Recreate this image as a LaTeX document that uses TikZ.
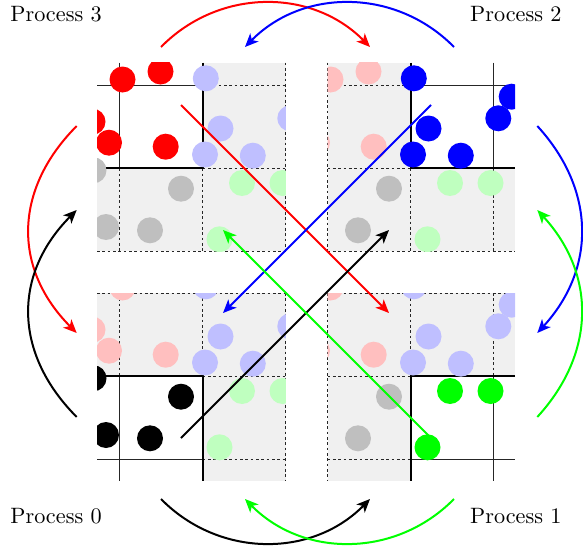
\documentclass[tikz,border=0pt]{standalone}
\usetikzlibrary{arrows.meta}
\definecolor{ghostbg}{gray}{0.94}
\newcommand\gXa{97}\newcommand\gXb{119.5}\newcommand\gXc{202.7}\newcommand\gXd{285.9}\newcommand\gXe{307}
\newcommand\gYa{62.5}\newcommand\gYb{85}\newcommand\gYc{168.2}\newcommand\gYd{251.4}\newcommand\gYe{273}
\newcommand\PthreeList{122.5/79.5,160.5/71.5,92.5/121.7,109/142.7,165.7/146.7}
\newcommand\PtwoList{205.8/78.3,220.5/128.5,205/154.5,252.8/155.7,290.3/118.3,303.7/96.7}
\newcommand\PzeroList{93.5/170.3,181/188.7,106/227,150/230.3}
\newcommand\PoneList{242/183,282.5/183,219.5/239.3}
\newcommand\pdots[2]{\foreach \px/\py in #1 {\fill[#2] (\px,\py) circle[radius=13];}}
\tikzset{
  gridthin/.style={line width=0.45pt, black!85},
  gridthick/.style={line width=0.85pt, black},
  griddash/.style={line width=0.45pt, black!85, dash pattern=on 1.2pt off 1.2pt},
  xfer/.style={line width=0.9pt, -{Stealth[length=6pt,width=5.2pt,inset=1.6pt]}},
  plabel/.style={inner sep=0pt, font=\normalsize},
}
\begin{document}
\begin{tikzpicture}[x=0.45pt,y=-0.45pt]
\useasboundingbox (0,0) rectangle (583,546);

% ---------- Process 3 (top left)
\begin{scope}
  \fill[ghostbg] (\gXc,\gYa) rectangle (\gXd,\gYd);
  \fill[ghostbg] (\gXa,\gYc) rectangle (\gXc,\gYd);
  \draw[gridthin] (\gXb,\gYa) -- (\gXb,\gYc) (\gXa,\gYb) -- (\gXc,\gYb);
  \draw[griddash] (\gXb,\gYc) -- (\gXb,\gYd) (\gXc,\gYc) -- (\gXc,\gYd) (\gXd,\gYa) -- (\gXd,\gYd)
     (\gXc,\gYb) -- (\gXd,\gYb) (\gXc,\gYc) -- (\gXd,\gYc) (\gXa,\gYd) -- (\gXd,\gYd);
  \draw[gridthick] (\gXc,\gYa) -- (\gXc,\gYc) -- (\gXa,\gYc);
  \begin{scope}
    \clip (\gXa,\gYa) rectangle (\gXd,\gYd);
    \pdots{\PtwoList}{blue!25}\pdots{\PzeroList}{black!25}\pdots{\PoneList}{green!25}
  \end{scope}
\end{scope}

% ---------- Process 2 (top right)
\begin{scope}[shift={(208,0)}]
  \fill[ghostbg] (\gXb,\gYa) rectangle (\gXc,\gYd);
  \fill[ghostbg] (\gXc,\gYc) rectangle (\gXe,\gYd);
  \draw[gridthin] (\gXd,\gYa) -- (\gXd,\gYc) (\gXc,\gYb) -- (\gXe,\gYb);
  \draw[griddash] (\gXb,\gYa) -- (\gXb,\gYd) (\gXc,\gYc) -- (\gXc,\gYd) (\gXd,\gYc) -- (\gXd,\gYd)
     (\gXb,\gYb) -- (\gXc,\gYb) (\gXb,\gYc) -- (\gXc,\gYc) (\gXb,\gYd) -- (\gXe,\gYd);
  \draw[gridthick] (\gXc,\gYa) -- (\gXc,\gYc) -- (\gXe,\gYc);
  \begin{scope}
    \clip (\gXb,\gYa) rectangle (\gXe,\gYd);
    \pdots{\PthreeList}{red!25}\pdots{\PzeroList}{black!25}\pdots{\PoneList}{green!25}
  \end{scope}
\end{scope}

% ---------- Process 0 (bottom left)
\begin{scope}[shift={(0,208)}]
  \fill[ghostbg] (\gXa,\gYb) rectangle (\gXd,\gYc);
  \fill[ghostbg] (\gXc,\gYc) rectangle (\gXd,\gYe);
  \draw[gridthin] (\gXb,\gYc) -- (\gXb,\gYe) (\gXa,\gYd) -- (\gXc,\gYd);
  \draw[griddash] (\gXa,\gYb) -- (\gXd,\gYb) (\gXb,\gYb) -- (\gXb,\gYc) (\gXc,\gYb) -- (\gXc,\gYc)
     (\gXd,\gYb) -- (\gXd,\gYe) (\gXc,\gYc) -- (\gXd,\gYc) (\gXc,\gYd) -- (\gXd,\gYd);
  \draw[gridthick] (\gXa,\gYc) -- (\gXc,\gYc) -- (\gXc,\gYe);
  \begin{scope}
    \clip (\gXa,\gYb) rectangle (\gXd,\gYe);
    \pdots{\PthreeList}{red!25}\pdots{\PtwoList}{blue!25}\pdots{\PoneList}{green!25}
  \end{scope}
\end{scope}

% ---------- Process 1 (bottom right)
\begin{scope}[shift={(208,208)}]
  \fill[ghostbg] (\gXb,\gYb) rectangle (\gXe,\gYc);
  \fill[ghostbg] (\gXb,\gYc) rectangle (\gXc,\gYe);
  \draw[gridthin] (\gXd,\gYc) -- (\gXd,\gYe) (\gXc,\gYd) -- (\gXe,\gYd);
  \draw[griddash] (\gXb,\gYb) -- (\gXe,\gYb) (\gXb,\gYb) -- (\gXb,\gYe) (\gXc,\gYb) -- (\gXc,\gYc)
     (\gXd,\gYb) -- (\gXd,\gYc) (\gXb,\gYc) -- (\gXc,\gYc) (\gXb,\gYd) -- (\gXc,\gYd);
  \draw[gridthick] (\gXe,\gYc) -- (\gXc,\gYc) -- (\gXc,\gYe);
  \begin{scope}
    \clip (\gXb,\gYb) rectangle (\gXe,\gYe);
    \pdots{\PthreeList}{red!25}\pdots{\PtwoList}{blue!25}\pdots{\PzeroList}{black!25}
  \end{scope}
\end{scope}

% ---------- diagonal transfers
\coordinate (r0) at (181,105);  \coordinate (r1) at (389,313);
\coordinate (b0) at (431,105);  \coordinate (b1) at (223,313);
\coordinate (k0) at (181,438);  \coordinate (k1) at (389,230);
\coordinate (g0) at (431,438);  \coordinate (g1) at (223,230);
\draw[xfer,red]   (r0) -- (r1);
\draw[xfer,blue]  (b0) -- (b1);
\draw[xfer,black] (k0) -- (k1);
\draw[xfer,green] (g0) -- (g1);

% ---------- owned particles
\begin{scope}\clip (\gXa,\gYa) rectangle (\gXd,\gYd); \pdots{\PthreeList}{red}\end{scope}
\begin{scope}[shift={(208,0)}]\clip (\gXb,\gYa) rectangle (\gXe,\gYd); \pdots{\PtwoList}{blue}\end{scope}
\begin{scope}[shift={(0,208)}]\clip (\gXa,\gYb) rectangle (\gXd,\gYe); \pdots{\PzeroList}{black}\end{scope}
\begin{scope}[shift={(208,208)}]\clip (\gXb,\gYb) rectangle (\gXe,\gYe); \pdots{\PoneList}{green}\end{scope}

% ---------- curved transfers
\coordinate (tr0) at (161,47);   \coordinate (tr1) at (370,47);
\coordinate (tb0) at (454,47);   \coordinate (tb1) at (245,47);
\coordinate (bk0) at (161,499);  \coordinate (bk1) at (370,499);
\coordinate (bg0) at (454,499);  \coordinate (bg1) at (245,499);
\coordinate (lr0) at (76.7,126); \coordinate (lr1) at (76.7,333);
\coordinate (lk0) at (76.7,417); \coordinate (lk1) at (76.7,210);
\coordinate (rb0) at (537.3,126);\coordinate (rb1) at (537.3,333);
\coordinate (rg0) at (537.3,417);\coordinate (rg1) at (537.3,210);
\draw[xfer,red]   (tr0) .. controls (219,-12) and (312,-12) .. (tr1);
\draw[xfer,blue]  (tb0) .. controls (396,-12) and (303,-12) .. (tb1);
\draw[xfer,black] (bk0) .. controls (219,558) and (312,558) .. (bk1);
\draw[xfer,green] (bg0) .. controls (396,558) and (303,558) .. (bg1);
\draw[xfer,red]   (lr0) .. controls (13,190) and (13,269) .. (lr1);
\draw[xfer,black] (lk0) .. controls (13,353) and (13,274) .. (lk1);
\draw[xfer,blue]  (rb0) .. controls (596,190) and (596,269) .. (rb1);
\draw[xfer,green] (rg0) .. controls (596,353) and (596,274) .. (rg1);

% ---------- labels
\node[plabel,anchor=base west] (lab3) at (10,22)  {Process 3};
\node[plabel,anchor=base east] (lab2) at (562,22) {Process 2};
\node[plabel,anchor=base west] (lab0) at (10,523) {Process 0};
\node[plabel,anchor=base east] (lab1) at (562,523) {Process 1};
\end{tikzpicture}
\end{document}
